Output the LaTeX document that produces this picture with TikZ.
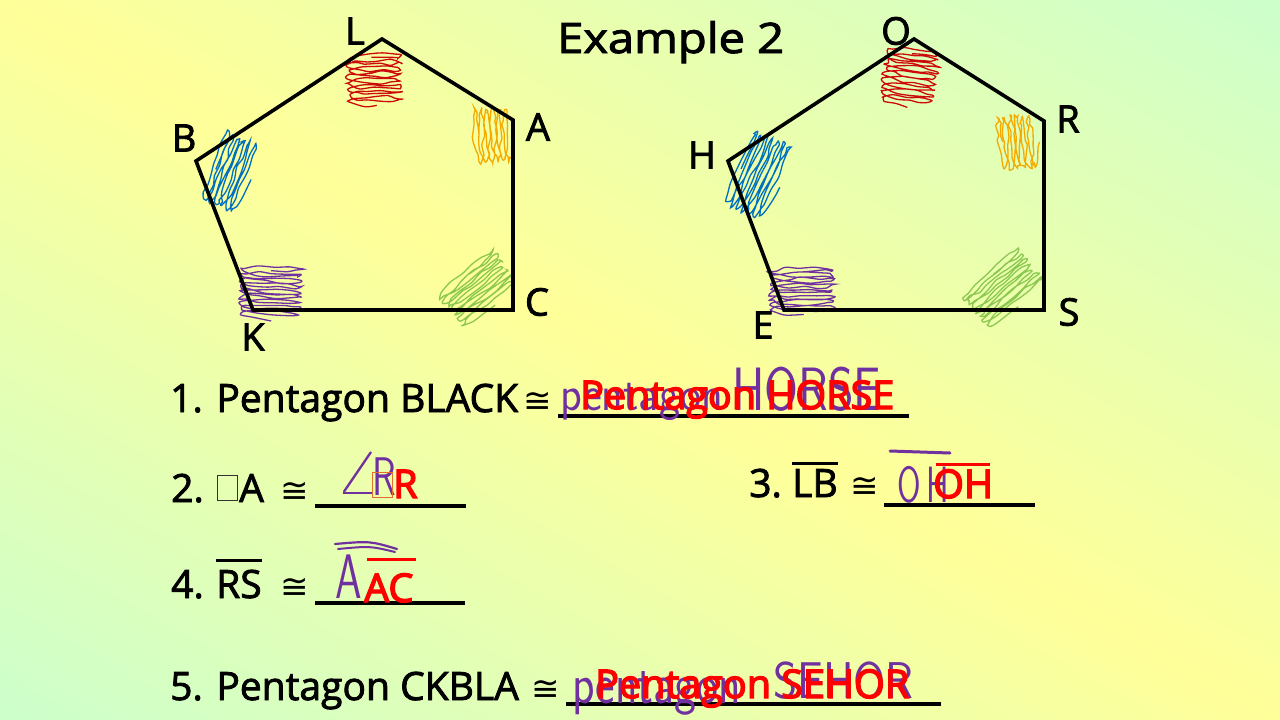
\documentclass[tikz,border=0pt]{standalone}
\usepackage{fontspec}
\usepackage{graphicx}
\setmainfont{Open Sans}[FakeBold=2.2]
\newfontfamily\ansfont{Open Sans}[FakeBold=3.5]
\newfontfamily\symfont{DejaVu Sans}
\definecolor{bgyellow}{RGB}{255,255,153}
\definecolor{bggreen}{RGB}{204,255,204}
\definecolor{penred}{RGB}{205,10,10}
\definecolor{penorange}{RGB}{245,170,0}
\definecolor{penblue}{RGB}{0,112,192}
\definecolor{penpurple}{RGB}{112,48,160}
\definecolor{pengreen}{RGB}{140,200,80}
\definecolor{ansred}{RGB}{255,0,0}
\definecolor{boxorange}{RGB}{230,110,40}
\tikzset{
  txt/.style={anchor=base west, inner sep=0pt, font=\fontsize{39}{39}\selectfont},
  lbl/.style={inner sep=0pt, font=\fontsize{38}{38}\selectfont},
  ttl/.style={anchor=base west, inner sep=0pt, font=\fontsize{42}{42}\selectfont},
  ans/.style={anchor=base west, inner sep=0pt, text=ansred, font=\fontsize{39.5}{39.5}\ansfont},
  hand/.style={anchor=base west, inner sep=0pt, text=penpurple, font=\fontsize{34}{34}\sffamily},
  cong/.style={anchor=base west, inner sep=0pt, font=\fontsize{34}{34}\symfont},
  edge/.style={line width=3.6pt, line join=miter},
  blank/.style={line width=3.2pt},
  bar/.style={line width=3pt},
  scribble/.style={line width=1.3pt},
}
\newcommand\scrib[7]{%
  \pgfmathsetmacro\scribend{#5*360}%
  \begin{scope}[shift={(#1,#2)}, rotate=#3]
    \draw[scribble, #7] plot[smooth, variable=\t, domain=0:\scribend, samples=110]
      ({#4/2*sin(\t)+3*rand}, {(\t/360)*#6 - #5*#6/2 + 0.6*#6*cos(\t)+1.5*rand});
  \end{scope}}
\begin{document}
\begin{tikzpicture}[x=1pt, y=-1pt]
\pgfmathsetseed{5}
\useasboundingbox (0,0) rectangle (1280,720);
% background
\begin{scope}
  \clip (0,0) rectangle (1280,720);
  \shade[transform canvas={rotate around={-29.4:(640,360)}}, top color=bggreen, bottom color=bggreen, middle color=bgyellow]
    (-400,-268) rectangle (1680,988);
\end{scope}

% title
\node[ttl] (title) at (557,53) {\scalebox{1.12}[1]{Example 2}};

% left pentagon
\coordinate (L) at (382,39);
\coordinate (A) at (513,120);
\coordinate (C) at (513,310);
\coordinate (K) at (253,310);
\coordinate (B) at (196,161);
\scrib{374}{79}{0}{52}{8}{6}{penred}
\scrib{492}{135}{92}{52}{6}{6}{penorange}
\scrib{230}{172}{68}{72}{6}{6}{penblue}
\scrib{270}{292}{-3}{60}{9}{5.5}{penpurple}
\scrib{478}{288}{38}{70}{7}{6}{pengreen}
\draw[edge] (L) -- (A) -- (C) -- (K) -- (B) -- cycle;
\node[lbl] (lL) at (355,31) {L};
\node[lbl] (lA) at (538,127) {A};
\node[lbl] (lB) at (184,138) {B};
\node[lbl] (lC) at (537,302) {C};
\node[lbl] (lK) at (253,337) {K};

% right pentagon
\coordinate (O) at (914,39);
\coordinate (R) at (1044,121);
\coordinate (S) at (1044,310);
\coordinate (E) at (784,310);
\coordinate (H) at (728,161);
\scrib{910}{76}{-8}{52}{9}{6}{penred}
\scrib{1017}{142}{95}{52}{6}{6}{penorange}
\scrib{758}{175}{65}{78}{7}{6}{penblue}
\scrib{802}{290}{0}{64}{8}{5.5}{penpurple}
\scrib{1003}{288}{40}{72}{7}{6}{pengreen}
\draw[edge] (O) -- (R) -- (S) -- (E) -- (H) -- cycle;
\node[lbl] (lO) at (896,31) {O};
\node[lbl] (lR) at (1068,119) {R};
\node[lbl] (lH) at (702,155) {H};
\node[lbl] (lE) at (763,325) {E};
\node[lbl] (lS) at (1069,312) {S};

% line 1
\node[txt] (t1) at (170,412) {1. Pentagon BLACK};
\node[cong] (c1) at (523,412) {≅};
\coordinate (u1a) at (558,416);
\coordinate (u1b) at (909,416);
\draw[blank] (u1a) -- (u1b);
\node[hand] (h1a) at (560,410) {\scalebox{1.32}[1.45]{pentagon}};
\node[hand] (h1b) at (732,410) {\scalebox{1.44}[1.8]{HORSE}};
\node[ans] (a1) at (580,409) {Pentagon HORSE};

% line 2
\node[txt] (t2) at (171,502) {2.};
\node[draw=black!80, line width=0.8pt, minimum width=20pt, minimum height=25pt, inner sep=0pt, anchor=south west] (bx2) at (217,501) {};
\node[txt] (t2b) at (239,502) {A};
\node[cong] (c2) at (280,502) {≅};
\coordinate (u2a) at (315,506);
\coordinate (u2b) at (466,506);
\draw[blank] (u2a) -- (u2b);
\node[hand, font=\normalsize] (h2a) at (334,494) {\scalebox{7.5}[6.3]{$\angle$}};
\node[hand] (h2b) at (372,495) {\scalebox{1.15}[1.6]{R}};
\node[draw=boxorange, line width=0.9pt, minimum width=20pt, minimum height=25pt, inner sep=0pt, anchor=south west] (bx2r) at (372,498) {};
\node[ans] (a2) at (393,498) {R};

% line 3
\node[txt] (t3) at (749,497) {3.};
\node[txt] (t3b) at (792,497) {LB};
\draw[bar] ([yshift=5pt]t3b.north west) -- ([yshift=5pt]t3b.north east);
\node[cong] (c3) at (850,497) {≅};
\coordinate (u3a) at (884,505);
\coordinate (u3b) at (1035,505);
\draw[blank] (u3a) -- (u3b);
\node[hand] (h3) at (897,502) {\scalebox{1}[1.5]{O\,H}};
\coordinate (p3a) at (890,451);
\coordinate (p3b) at (950,453);
\draw[penpurple, line width=3pt, line cap=round] (p3a) -- (p3b);
\node[ans] (a3) at (933,498) {OH};
\draw[bar, ansred] ([xshift=3pt, yshift=5pt]a3.north west) -- ([xshift=-3pt, yshift=5pt]a3.north east);

% line 4
\node[txt] (t4) at (171,598) {4.};
\node[txt] (t4b) at (216,598) {RS};
\draw[bar] ([yshift=9pt]t4b.north west) -- ([yshift=9pt]t4b.north east);
\node[cong] (c4) at (280,598) {≅};
\coordinate (u4a) at (315,603);
\coordinate (u4b) at (465,603);
\draw[blank] (u4a) -- (u4b);
\node[hand] (h4) at (335,598) {\scalebox{1.25}[1.85]{A}};
\coordinate (p4a) at (335,544);
\coordinate (p4b) at (397,549);
\coordinate (p4c) at (338,549);
\coordinate (p4d) at (395,552);
\draw[penpurple, line width=2.2pt, line cap=round] (p4a) .. controls (370,541) .. (p4b);
\draw[penpurple, line width=2pt, line cap=round] (p4c) .. controls (370,546) .. (p4d);
\node[ans] (a4) at (364,602) {AC};
\draw[bar, ansred] ([xshift=3pt, yshift=14pt]a4.north west) -- ([xshift=2pt, yshift=14pt]a4.north east);

% line 5
\node[txt] (t5) at (170,700) {5. Pentagon CKBLA};
\node[cong] (c5) at (531,700) {≅};
\coordinate (u5a) at (566,704);
\coordinate (u5b) at (941,704);
\draw[blank] (u5a) -- (u5b);
\node[hand] (h5a) at (572,703) {\scalebox{1.37}[1.7]{pentagon}};
\node[hand] (h5b) at (773,698) {\scalebox{1.36}[1.52]{SEHOR}};
\node[ans] (a5) at (595,698) {Pentagon SEHOR};
\end{tikzpicture}
\end{document}
